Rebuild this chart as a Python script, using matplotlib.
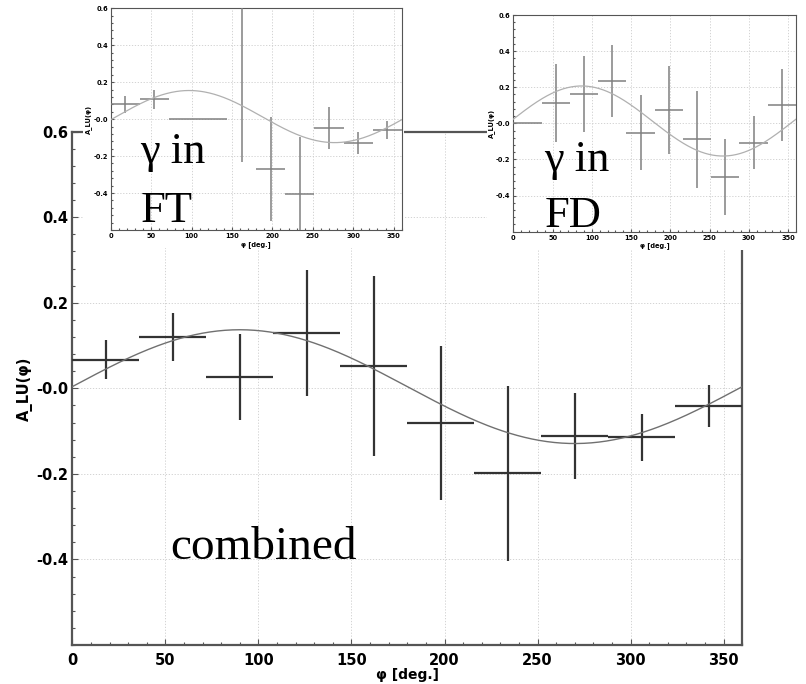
import numpy as np
import matplotlib
matplotlib.use("Agg")
import matplotlib.pyplot as plt
from matplotlib.patches import Rectangle
from matplotlib.ticker import MultipleLocator, FixedLocator

# bin centres in phi (deg), bin half width 18
phi_bins = [18, 54, 90, 126, 162, 198, 234, 270, 306, 342]

# combined
comb_val = [0.067, 0.120, 0.026, 0.129, 0.052, -0.080, -0.199, -0.111, -0.114, -0.041]
comb_err = [0.045, 0.055, 0.100, 0.147, 0.210, 0.180, 0.205, 0.100, 0.055, 0.049]
comb_fit = [0.004, 0.133, 0.0]      # offset, amplitude, phase (deg)

# photon in FT
ft_val = [0.080, 0.107, 0.0, 0.0, 0.650, -0.269, -0.405, -0.047, -0.131, -0.058]
ft_err = [0.045, 0.053, 0.0, 0.0, 0.880, 0.280, 0.310, 0.115, 0.060, 0.047]
ft_fit = [0.014, 0.141, 7.0]

# photon in FD
fd_val = [0.0, 0.114, 0.161, 0.236, -0.052, 0.074, -0.089, -0.299, -0.107, 0.102]
fd_err = [0.0, 0.217, 0.210, 0.200, 0.207, 0.243, 0.268, 0.210, 0.147, 0.200]
fd_fit = [0.013, 0.194, -3.0]

ytick_vals = [0.6, 0.4, 0.2, 0.0, -0.2, -0.4]
ytick_labels = ["0.6", "0.4", "0.2", "-0.0", "-0.2", "-0.4"]
xtick_vals = [0, 50, 100, 150, 200, 250, 300, 350]

W, H = 806, 684
fig = plt.figure(figsize=(W / 100, H / 100), dpi=100)


def px_box(x0, y0, x1, y1):
    # pixel box (top-left origin) -> figure fraction rect
    return [x0 / W, 1 - y1 / H, (x1 - x0) / W, (y1 - y0) / H]


def style_axes(ax, fs, spine_c, spine_w, maj, minr, pad_x, pad_y):
    ax.set_xlim(0, 360)
    ax.set_ylim(-0.6, 0.6)
    ax.xaxis.set_major_locator(FixedLocator(xtick_vals))
    ax.xaxis.set_minor_locator(MultipleLocator(10))
    ax.yaxis.set_major_locator(FixedLocator(ytick_vals))
    ax.yaxis.set_minor_locator(MultipleLocator(0.04))
    ax.set_yticklabels(ytick_labels)
    ax.set_xticklabels([str(v) for v in xtick_vals])
    for lab in ax.get_xticklabels() + ax.get_yticklabels():
        lab.set_fontweight("bold")
        lab.set_fontsize(fs)
    ax.tick_params(which="both", direction="in", color=spine_c, width=0.8,
                   top=False, right=False)
    ax.tick_params(which="major", length=maj)
    ax.tick_params(which="minor", length=minr)
    ax.tick_params(axis="x", pad=pad_x)
    ax.tick_params(axis="y", pad=pad_y)
    for s in ax.spines.values():
        s.set_color(spine_c)
        s.set_linewidth(spine_w)
    ax.grid(True, which="major", linestyle=(0, (1.5, 2)), color="#cccccc",
            linewidth=0.6)
    ax.set_axisbelow(True)


def draw_set(ax, vals, errs, fit, ecol, lw, fcol, flw):
    ax.errorbar(phi_bins, vals, xerr=18, yerr=errs, fmt="none",
                ecolor=ecol, elinewidth=lw, capsize=0, zorder=3)
    phi = np.linspace(0, 360, 361)
    curve = fit[0] + fit[1] * np.sin(np.radians(phi - fit[2]))
    ax.plot(phi, curve, color=fcol, linewidth=flw, zorder=4)


# main (combined)
ax = fig.add_axes(px_box(72.3, 131.7, 742.3, 645))
ax.set_zorder(0)
style_axes(ax, 10.5, "#555555", 1.6, 4, 2, 6, 3)
draw_set(ax, comb_val, comb_err, comb_fit, "#333333", 1.6, "#707070", 1.0)
ax.set_xlabel("φ [deg.]", fontsize=10, fontweight="bold")
ax.xaxis.label.set_va("center")
ax.xaxis.set_label_coords(0.5, -30 / 513.3)
ax.set_ylabel("A_LU(φ)", fontsize=10.5, fontweight="bold")
ax.yaxis.label.set_va("center")
ax.yaxis.set_label_coords(-47 / 670, 0.5)
ax.text(52.5, -0.40, "combined", family="Liberation Serif", fontsize=34,
        va="baseline", ha="left", zorder=5)

# white backgrounds of the pasted insets
for x0, y0, x1, y1 in [(83, 0, 404, 248), (487, 0, 806, 250)]:
    fig.patches.append(Rectangle((x0 / W, 1 - y1 / H), (x1 - x0) / W,
                                 (y1 - y0) / H, transform=fig.transFigure,
                                 facecolor="white", edgecolor="none",
                                 zorder=1))

insets = [
    (px_box(110.7, 8.3, 401.7, 230), ft_val, ft_err, ft_fit, "FT",
     (140, 163), (141, 222)),
    (px_box(513.3, 15, 796, 231.7), fd_val, fd_err, fd_fit, "FD",
     (544, 171), (545, 227)),
]
for rect, vals, errs, fit, det, p1, p2 in insets:
    ia = fig.add_axes(rect)
    ia.set_zorder(2)
    style_axes(ia, 4.8, "#555555", 0.8, 2.5, 1.2, 2.5, 2)
    draw_set(ia, vals, errs, fit, "#808080", 1.1, "#b0b0b0", 0.9)
    ia.set_xlabel("φ [deg.]", fontsize=4.8, fontweight="bold", labelpad=1)
    ia.set_ylabel("A_LU(φ)", fontsize=4.8, fontweight="bold", labelpad=1)
    fig.text(p1[0] / W, 1 - p1[1] / H, "γ in", family="Liberation Serif",
             fontsize=32, va="baseline", ha="left", zorder=5)
    fig.text(p2[0] / W, 1 - p2[1] / H, det, family="Liberation Serif",
             fontsize=32, va="baseline", ha="left", zorder=5)

fig.savefig("out.png", dpi=100)
